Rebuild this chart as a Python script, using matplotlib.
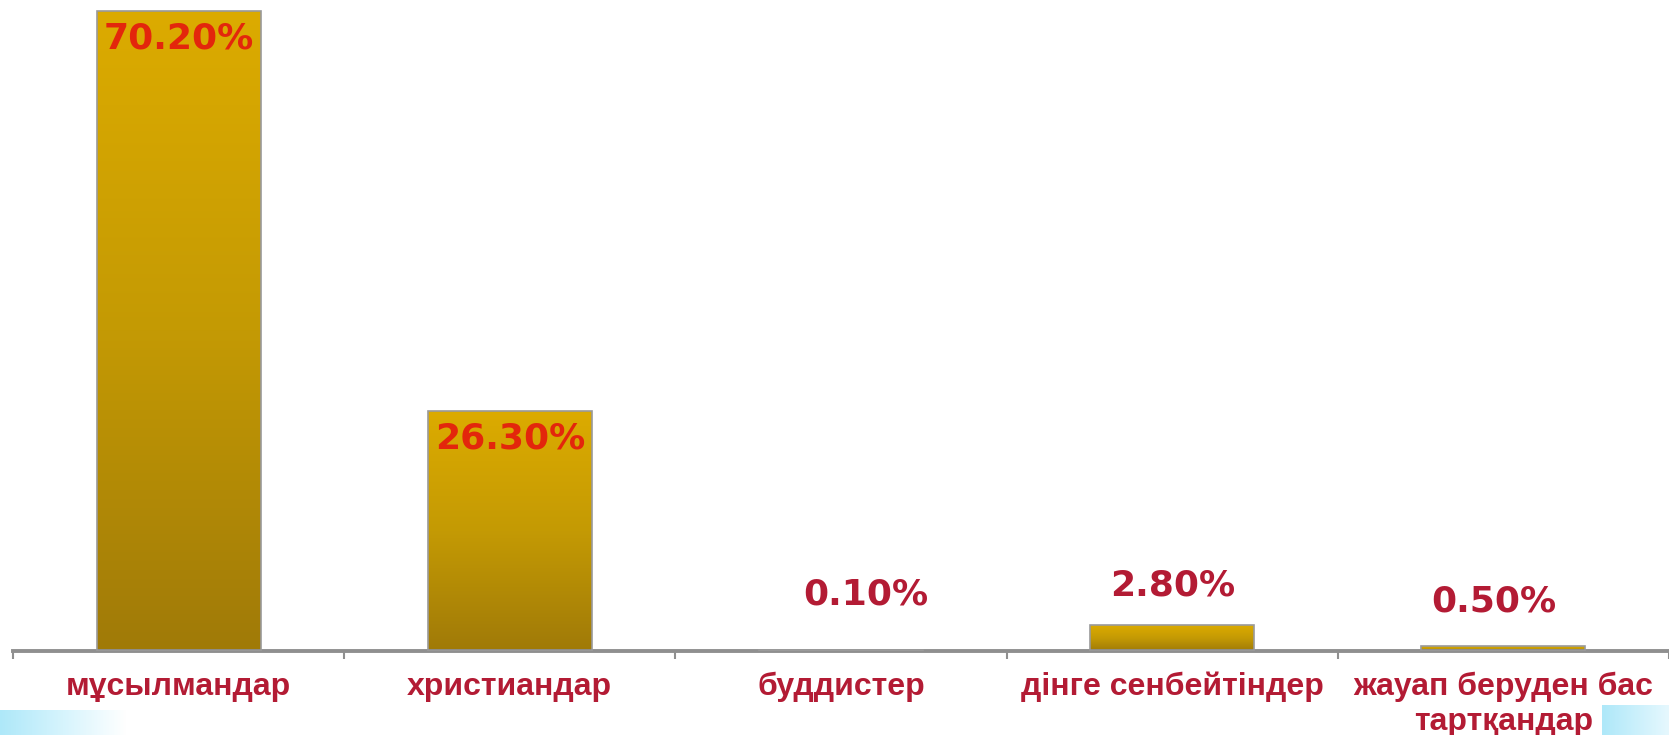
import matplotlib
matplotlib.use("Agg")
import matplotlib.pyplot as plt
import numpy as np
from matplotlib.colors import LinearSegmentedColormap

categories = ["мұсылмандар", "христиандар", "буддистер", "дінге сенбейтіндер",
              "жауап беруден бас\nтартқандар"]
values = [70.2, 26.3, 0.1, 2.8, 0.5]
value_labels = ["70.20%", "26.30%", "0.10%", "2.80%", "0.50%"]

# label placement (points): inside the bar for tall ones, above for short ones
label_inside = [True, True, False, False, False]
label_dy = [-20, -20, 40, 29, 32]
label_dx = [0, 0, 18, 0, -7]

dark_red = "#b31b34"
bar_cmap = LinearSegmentedColormap.from_list("gold", ["#a07a08", "#c49a04", "#dcab00"])

fig = plt.figure(figsize=(16.69, 7.35), dpi=100)
ax = fig.add_axes([13 / 1669, 84 / 735, 1656 / 1669, 651 / 735])

x = np.arange(len(categories))
width = 0.495
bars = ax.bar(x, values, width, color="none", edgecolor="#9a9a9a", linewidth=1.2, zorder=3)

# vertical gradient fill for each bar
grad = np.linspace(0, 1, 256).reshape(-1, 1)
for b in bars:
    x0, y0 = b.get_x(), b.get_y()
    w, h = b.get_width(), b.get_height()
    im = ax.imshow(grad, cmap=bar_cmap, origin="lower", aspect="auto",
                   extent=[x0, x0 + w, y0, y0 + h], zorder=2)
    im.set_clip_path(b)

ax.set_xlim(-0.5, 4.49)
ax.set_ylim(0, 71.4)

for i, (v, lab) in enumerate(zip(values, value_labels)):
    col = "#e3260c" if label_inside[i] else dark_red
    ax.annotate(lab, (x[i], v), xytext=(label_dx[i], label_dy[i]),
                textcoords="offset points", ha="center", va="center",
                fontsize=26, fontweight="bold", family="DejaVu Sans",
                color=col, zorder=5)

for s in ["top", "right", "left"]:
    ax.spines[s].set_visible(False)
ax.spines["bottom"].set_color("#8f8f8f")
ax.spines["bottom"].set_linewidth(2.8)
ax.set_yticks([])

ax.set_xticks(np.arange(-0.5, 5, 1))
ax.set_xticklabels([])
ax.tick_params(axis="x", length=6, width=1.5, color="#8f8f8f", direction="out")
for i, c in enumerate(categories):
    ax.annotate(c, (x[i], 0), xytext=(0, -15), textcoords="offset points",
                ha="center", va="top", fontsize=23, fontweight="bold",
                family="Liberation Sans", color=dark_red, linespacing=1.2,
                annotation_clip=False)

# light blue slide decorations in the bottom corners
cyan = LinearSegmentedColormap.from_list("cy", ["#aee8f9", "#d6f4fd", "#ffffff"])
hgrad = np.linspace(0, 1, 256).reshape(1, -1)
dl = fig.add_axes([0, 0, 125 / 1669, 25 / 735])
dl.imshow(hgrad, cmap=cyan, aspect="auto")
dl.axis("off")
dr = fig.add_axes([1602 / 1669, 0, 67 / 1669, 30 / 735])
dr.imshow(hgrad[:, ::-1], cmap=LinearSegmentedColormap.from_list("cy2", ["#e6f8fe", "#aee8f9"]), aspect="auto")
dr.axis("off")

fig.savefig("out.png", dpi=100)
